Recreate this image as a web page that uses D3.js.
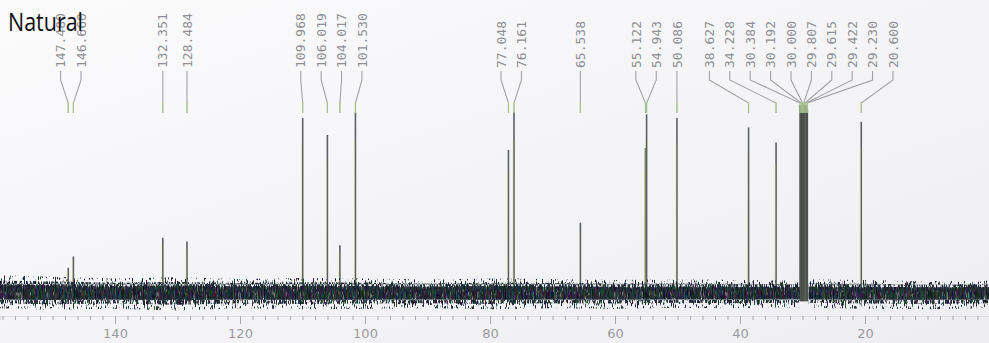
<!DOCTYPE html>
<html>
<head>
<meta charset="utf-8">
<script src="https://cdn.jsdelivr.net/npm/d3@7"></script>
<style>
  html, body { margin: 0; padding: 0; background: #f4f4f7; overflow: hidden; }
</style>
</head>
<body>
<div id="chart"></div>
<script>
// 13C NMR spectrum of the "Natural" sample
// peak shifts (ppm), relative heights (tallest = 100) and their labels
const peakShifts = [147.480, 146.660, 132.351, 128.484, 109.968, 106.019, 104.017, 101.530,
                    77.048, 76.161, 65.538, 55.122, 54.943, 50.086, 38.627, 34.228,
                    30.384, 30.192, 30.000, 29.807, 29.615, 29.422, 29.230, 20.600];
const peakHeights = [13, 19, 29, 27, 93, 84, 25, 96,
                     76, 96, 37, 77, 95, 93, 88, 80,
                     100, 100, 100, 100, 100, 100, 98, 91];
const peakLabels = ["147.480", "146.660", "132.351", "128.484", "109.968", "106.019", "104.017", "101.530",
                    "77.048", "76.161", "65.538", "55.122", "54.943", "50.086", "38.627", "34.228",
                    "30.384", "30.192", "30.000", "29.807", "29.615", "29.422", "29.230", "20.600"];

// baseline noise envelope (NaN = gap under the solvent cluster)
const noisePpm = [158.4, 150, 140, 130, 120, 110, 100, 90, 80, 70, 60, 50, 40, 30.45, NaN, 29.0, 20, 10, 0.1];
const noiseHi  = [6.2, 5.6, 5.0, 5.4, 4.8, 5.2, 5.0, 4.6, 5.0, 4.8, 4.4, 4.6, 4.4, 4.2, NaN, 4.6, 4.4, 4.0, 4.2];
const noiseLo  = [-6.0, -6.5, -6.2, -6.8, -6.0, -6.4, -6.2, -6.0, -6.4, -6.0, -6.2, -5.8, -6.0, -5.6, NaN, -5.8, -6.2, -6.4, -6.0];

// axis
const majorTicks = [140, 120, 100, 80, 60, 40, 20];

const W = 989, H = 343;

let svg = d3.select("#chart")
  .append("svg")
    .attr("width", W)
    .attr("height", H);

let defs = svg.append("defs");

// paper background of the scan
let bg = defs.append("linearGradient")
    .attr("id", "paper")
    .attr("x1", 0).attr("y1", 0).attr("x2", 1).attr("y2", 1);
bg.append("stop").attr("offset", "0%").attr("stop-color", "#fbfbfc");
bg.append("stop").attr("offset", "100%").attr("stop-color", "#eeeef2");

svg.append("rect")
    .attr("width", W)
    .attr("height", H)
    .attr("fill", "url(#paper)");

// grain filters for the noisy baseline (short vertical streaks, dark ink)
function addGrain(id, seed, freq, alphaGain, alphaCut) {
    let f = defs.append("filter")
        .attr("id", id)
        .attr("color-interpolation-filters", "sRGB")
        .attr("x", 0).attr("y", 0).attr("width", 1).attr("height", 1);
    f.append("feTurbulence")
        .attr("type", "fractalNoise")
        .attr("baseFrequency", freq)
        .attr("numOctaves", 2)
        .attr("seed", seed)
        .attr("result", "t");
    f.append("feColorMatrix")
        .attr("in", "t")
        .attr("type", "matrix")
        .attr("values", `0.5 0 0 0 -0.12  0 0.55 0 0 -0.1  0.2 0 0.5 0 -0.14  0 0 0 ${alphaGain} ${alphaCut}`)
        .attr("result", "c");
    f.append("feComposite")
        .attr("in", "c")
        .attr("in2", "SourceGraphic")
        .attr("operator", "in");
}
addGrain("grainOuter", 3, "1.1 0.16", 11, -6.3);
addGrain("grainMid", 11, "1.0 0.13", 9, -4.0);
addGrain("grainCore", 23, "0.9 0.1", 7, -2.2);

/*
 * Scales
 */
let x = d3.scaleLinear()
    .domain([158.4, 0.16])
    .range([0, W]);

let y = d3.scaleLinear()
    .domain([0, 100])
    .range([292, 105]);

/*
 * Axis
 */
let minorAxis = svg.append("g")
    .attr("transform", "translate(0,316)")
    .call(d3.axisBottom(x).tickValues(d3.range(158, 0, -2)).tickSize(4).tickFormat(""));
minorAxis.select(".domain").attr("stroke", "#dedee2");
minorAxis.selectAll(".tick line").attr("stroke", "#a9a9ad");

let majorAxis = svg.append("g")
    .attr("transform", "translate(0,316)")
    .call(d3.axisBottom(x).tickValues(majorTicks).tickSize(8).tickPadding(5).tickFormat(d3.format("d")));
majorAxis.select(".domain").remove();
majorAxis.selectAll(".tick line").attr("stroke", "#a9a9ad");
majorAxis.selectAll(".tick text")
    .attr("fill", "#9a9aa0")
    .style("font-family", "'DejaVu Sans', sans-serif")
    .style("font-size", "13px");

/*
 * Peaks
 */
let peaks = svg.append("g");
peaks.selectAll("line.peak")
  .data(peakShifts)
  .enter()
  .append("line")
    .attr("class", "peak")
    .attr("x1", d => x(d))
    .attr("x2", d => x(d))
    .attr("y1", y(-5))
    .attr("y2", (d, i) => y(peakHeights[i]))
    .attr("stroke", d => (d > 29 && d < 31) ? "#4a4f4a" : "#5d6060")
    .attr("stroke-width", 1.6);

// slight colour fringe of the scanner on the isolated peaks
peaks.selectAll("line.fringe")
  .data(peakShifts.filter(d => d > 31 || d < 29))
  .enter()
  .append("line")
    .attr("class", "fringe")
    .attr("x1", d => x(d) - 1)
    .attr("x2", d => x(d) - 1)
    .attr("y1", y(0))
    .attr("y2", d => y(peakHeights[peakShifts.indexOf(d)] * 0.85))
    .attr("stroke", "#c9d86b")
    .attr("stroke-width", 0.7)
    .attr("opacity", 0.45);

/*
 * Baseline noise
 */
let noiseData = noisePpm.map((p, i) => ({ppm: p, hi: noiseHi[i], lo: noiseLo[i]}));

function bandArea(k) {
    return d3.area()
        .defined(d => !isNaN(d.ppm))
        .x(d => x(d.ppm))
        .y0(d => y(d.lo * k))
        .y1(d => y(d.hi * k));
}

svg.append("path")
    .datum(noiseData)
    .attr("d", bandArea(1.45))
    .attr("fill", "#000")
    .attr("filter", "url(#grainOuter)");

svg.append("path")
    .datum(noiseData)
    .attr("d", bandArea(1.0))
    .attr("fill", "#000")
    .attr("filter", "url(#grainMid)");

svg.append("path")
    .datum(noiseData)
    .attr("d", bandArea(0.55))
    .attr("fill", "#1d201e")
    .attr("opacity", 0.6);

svg.append("path")
    .datum(noiseData)
    .attr("d", bandArea(0.65))
    .attr("fill", "#000")
    .attr("filter", "url(#grainCore)");

/*
 * Peak labels, spread apart like the NMR software does
 */
function spreadLabels(xs, gap) {
    let groups = xs.map((v, i) => ({idx: [i], sum: v}));
    let changed = true;
    while (changed) {
        changed = false;
        for (let i = 0; i < groups.length - 1; i++) {
            let a = groups[i], b = groups[i + 1];
            let aEnd = a.sum / a.idx.length + (a.idx.length - 1) * gap / 2;
            let bStart = b.sum / b.idx.length - (b.idx.length - 1) * gap / 2;
            if (bStart - aEnd < gap) {
                a.idx = a.idx.concat(b.idx);
                a.sum += b.sum;
                groups.splice(i + 1, 1);
                changed = true;
                break;
            }
        }
    }
    let out = [];
    groups.forEach(g => {
        let n = g.idx.length, c = g.sum / n;
        g.idx.forEach((k, j) => out[k] = c + (j - (n - 1) / 2) * gap);
    });
    return out;
}

let labelX = spreadLabels(peakShifts.map(d => x(d)), 20.4);

let leaders = svg.append("g");
leaders.selectAll("path.leader")
  .data(peakShifts)
  .enter()
  .append("path")
    .attr("class", "leader")
    .attr("d", (d, i) => `M${labelX[i]},71V80L${x(d)},103V113`)
    .attr("fill", "none")
    .attr("stroke", "#a2a2a6")
    .attr("stroke-width", 1.1);

leaders.selectAll("path.tip")
  .data(peakShifts)
  .enter()
  .append("path")
    .attr("class", "tip")
    .attr("d", d => `M${x(d)},102V113`)
    .attr("stroke", "#a9d27a")
    .attr("stroke-width", 1.2)
    .attr("opacity", 0.6);

svg.append("g")
  .selectAll("text")
  .data(peakLabels)
  .enter()
  .append("text")
    .attr("transform", (d, i) => `translate(${labelX[i]},68) rotate(-90)`)
    .attr("dy", "0.36em")
    .attr("fill", "#909094")
    .style("font-family", "'DejaVu Sans Mono', monospace")
    .style("font-size", "13px")
    .text(d => d);

/*
 * Title
 */
svg.append("text")
    .attr("x", 8)
    .attr("y", 31)
    .attr("textLength", 75)
    .attr("lengthAdjust", "spacingAndGlyphs")
    .attr("fill", "#111")
    .style("font-family", "'Open Sans', sans-serif")
    .style("font-size", "25px")
    .text("Natural");
</script>
</body>
</html>
